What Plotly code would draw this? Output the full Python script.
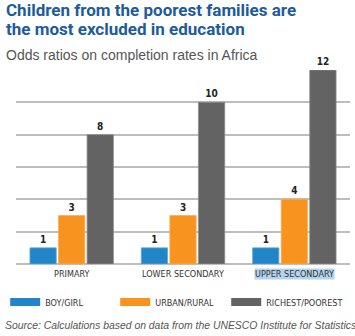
import plotly.graph_objects as go

categories = ["PRIMARY", "LOWER SECONDARY", "UPPER SECONDARY"]
series_names = ["BOY/GIRL", "URBAN/RURAL", "RICHEST/POOREST"]
boy_girl = [1, 1, 1]
urban_rural = [3, 3, 4]
richest_poorest = [8, 10, 12]
y_ticks = [0, 2, 4, 6, 8, 10, 12]

title_lines = ["Children from the poorest families are", "the most excluded in education"]
subtitle = "Odds ratios on completion rates in Africa"
source = "Source: Calculations based on data from the UNESCO Institute for Statistics"

colors = ["#2185c8", "#f7931e", "#636363"]
edge = ["#5aa9dd", "#f9ad55", "#8a8a8a"]

W, H = 355, 336
ML, MR, MT, MB = 10, 5, 70, 72
PW, PH = W - ML - MR, H - MT - MB


def px(x):
    return (x - ML) / PW


def py(y):
    return (H - MB - y) / PH


COND = "DejaVu Sans Condensed, Arial Narrow, sans-serif"
TITLE = "Roboto, Arial, sans-serif"
SANS = "Liberation Sans, Arial, Helvetica, sans-serif"

legend_ids = ["legend", "legend2", "legend3"]
legend_x = [-1, 111, 224]

fig = go.Figure()
for name, vals, c, e, lid in zip(series_names, [boy_girl, urban_rural, richest_poorest], colors, edge, legend_ids):
    fig.add_trace(go.Bar(
        x=categories, y=vals, name=name, showlegend=False,
        marker=dict(color=c, line=dict(color=e, width=0.8)),
        text=vals, texttemplate="<b>%{text}</b>", textposition="outside",
        textfont=dict(family=COND, size=10, color="#222222"),
        cliponaxis=False,
    ))
    fig.add_trace(go.Scatter(
        x=[None], y=[None], mode="lines", name=name, legend=lid,
        line=dict(color=c, width=8), showlegend=True,
    ))

annotations = []
annotations.append(dict(x=px(-2), y=py(10), xref="paper", yref="paper", xanchor="left", yanchor="middle",
                        text="<b>" + title_lines[0] + "</b>", showarrow=False,
                        font=dict(family=TITLE, size=17, color="#1d5b9b")))
annotations.append(dict(x=px(-2), y=py(28.5), xref="paper", yref="paper", xanchor="left", yanchor="middle",
                        text="<b>" + title_lines[1] + "</b>", showarrow=False,
                        font=dict(family=TITLE, size=17, color="#1d5b9b")))
annotations.append(dict(x=px(-2), y=py(55), xref="paper", yref="paper", xanchor="left", yanchor="middle",
                        text=subtitle, showarrow=False,
                        font=dict(family=SANS, size=14, color="#555555")))
annotations.append(dict(x=px(-3), y=py(325), xref="paper", yref="paper", xanchor="left", yanchor="middle",
                        text="<i>" + source + "</i>", showarrow=False,
                        font=dict(family=SANS, size=10.4, color="#555555")))
for i, cat in enumerate(categories):
    annotations.append(dict(x=cat, y=py(274), xref="x", yref="paper", xanchor="center", yanchor="middle",
                            text=cat, showarrow=False,
                            font=dict(family=COND, size=9, color="#333333"),
                            bgcolor="#b3d3ee" if i == 2 else "rgba(0,0,0,0)", borderpad=0))

legend_common = dict(orientation="h", xanchor="left", y=py(302), yanchor="middle", itemwidth=30,
                     font=dict(family=COND, size=9, color="#333333"), bgcolor="rgba(0,0,0,0)")

fig.update_layout(
    width=W, height=H,
    margin=dict(l=ML, r=MR, t=MT, b=MB),
    paper_bgcolor="white", plot_bgcolor="white",
    barmode="group", bargap=0.23, bargroupgap=0.08,
    showlegend=True,
    legend=dict(x=px(legend_x[0]), **legend_common),
    legend2=dict(x=px(legend_x[1]), **legend_common),
    legend3=dict(x=px(legend_x[2]), **legend_common),
    annotations=annotations,
    xaxis=dict(showticklabels=False, showgrid=False, zeroline=False, showline=False, ticks=""),
    yaxis=dict(range=[0, 12], tickvals=y_ticks, showticklabels=False, showgrid=True,
               gridcolor="#bdbdbd", gridwidth=1.5, zeroline=True, zerolinecolor="#bdbdbd",
               zerolinewidth=1.5, showline=False, ticks=""),
)

fig.write_html("out.html")
